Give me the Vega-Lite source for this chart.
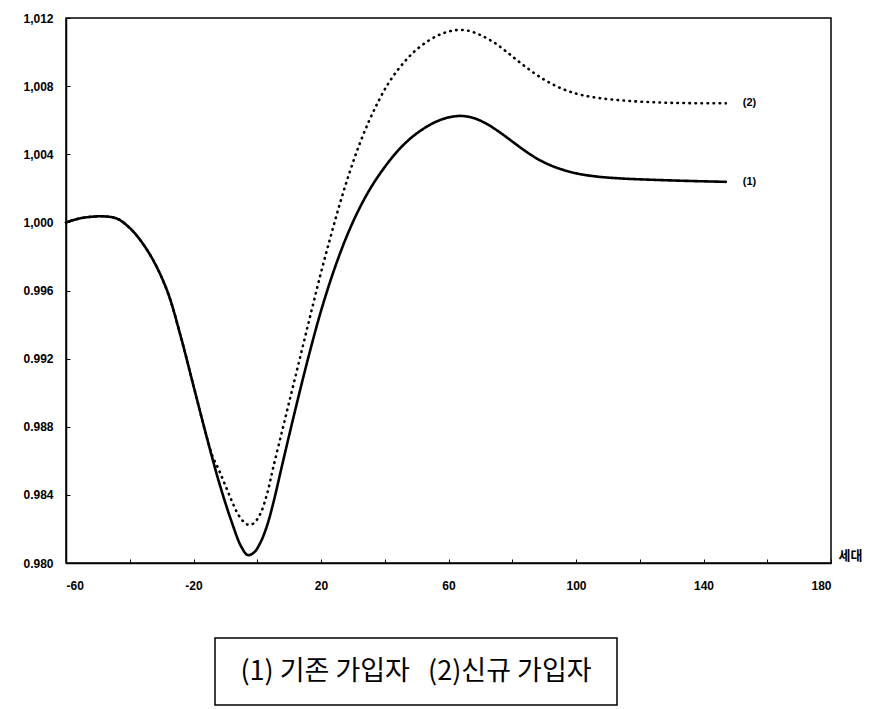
{
  "$schema": "https://vega.github.io/schema/vega-lite/v6.json",
  "padding": {"left": 22, "top": 11, "right": 0, "bottom": 0},
  "background": "white",
  "config": {
    "font": "Liberation Sans",
    "view": {"stroke": "black", "strokeWidth": 1.5},
    "axis": {"grid": false, "domainColor": "black", "domainWidth": 1.5, "tickColor": "black", "labelColor": "black", "labelFontSize": 12, "labelFontWeight": "bold", "labelFont": "Liberation Sans"}
  },
  "spacing": 45,
  "vconcat": [
    {
      "width": 765,
      "height": 545,
      "data": {"values": [
        {"series": "(1)", "x": -60, "v": 1.00000},
        {"series": "(1)", "x": -56, "v": 1.00022},
        {"series": "(1)", "x": -52, "v": 1.00033},
        {"series": "(1)", "x": -48, "v": 1.00035},
        {"series": "(1)", "x": -44, "v": 1.00022},
        {"series": "(1)", "x": -40, "v": 0.99967},
        {"series": "(1)", "x": -36, "v": 0.99878},
        {"series": "(1)", "x": -32, "v": 0.99755},
        {"series": "(1)", "x": -28, "v": 0.99585},
        {"series": "(1)", "x": -24, "v": 0.99330},
        {"series": "(1)", "x": -20, "v": 0.99040},
        {"series": "(1)", "x": -16, "v": 0.98750},
        {"series": "(1)", "x": -12, "v": 0.98475},
        {"series": "(1)", "x": -8, "v": 0.98240},
        {"series": "(1)", "x": -5, "v": 0.98095},
        {"series": "(1)", "x": -3, "v": 0.98047},
        {"series": "(1)", "x": -1, "v": 0.98062},
        {"series": "(1)", "x": 1, "v": 0.98120},
        {"series": "(1)", "x": 3, "v": 0.98215},
        {"series": "(1)", "x": 5, "v": 0.98350},
        {"series": "(1)", "x": 8, "v": 0.98590},
        {"series": "(1)", "x": 12, "v": 0.98905},
        {"series": "(1)", "x": 16, "v": 0.99205},
        {"series": "(1)", "x": 20, "v": 0.99480},
        {"series": "(1)", "x": 24, "v": 0.99715},
        {"series": "(1)", "x": 28, "v": 0.99915},
        {"series": "(1)", "x": 32, "v": 1.00080},
        {"series": "(1)", "x": 36, "v": 1.00215},
        {"series": "(1)", "x": 40, "v": 1.00325},
        {"series": "(1)", "x": 44, "v": 1.00418},
        {"series": "(1)", "x": 48, "v": 1.00492},
        {"series": "(1)", "x": 52, "v": 1.00548},
        {"series": "(1)", "x": 56, "v": 1.00590},
        {"series": "(1)", "x": 60, "v": 1.00616},
        {"series": "(1)", "x": 64, "v": 1.00625},
        {"series": "(1)", "x": 68, "v": 1.00612},
        {"series": "(1)", "x": 72, "v": 1.00578},
        {"series": "(1)", "x": 76, "v": 1.00530},
        {"series": "(1)", "x": 80, "v": 1.00475},
        {"series": "(1)", "x": 84, "v": 1.00420},
        {"series": "(1)", "x": 88, "v": 1.00372},
        {"series": "(1)", "x": 92, "v": 1.00335},
        {"series": "(1)", "x": 96, "v": 1.00308},
        {"series": "(1)", "x": 100, "v": 1.00288},
        {"series": "(1)", "x": 106, "v": 1.00270},
        {"series": "(1)", "x": 114, "v": 1.00258},
        {"series": "(1)", "x": 124, "v": 1.00250},
        {"series": "(1)", "x": 136, "v": 1.00243},
        {"series": "(1)", "x": 147, "v": 1.00238},
        {"series": "(2)", "x": -60, "v": 1.00000},
        {"series": "(2)", "x": -56, "v": 1.00022},
        {"series": "(2)", "x": -52, "v": 1.00033},
        {"series": "(2)", "x": -48, "v": 1.00035},
        {"series": "(2)", "x": -44, "v": 1.00022},
        {"series": "(2)", "x": -40, "v": 0.99967},
        {"series": "(2)", "x": -36, "v": 0.99878},
        {"series": "(2)", "x": -32, "v": 0.99755},
        {"series": "(2)", "x": -28, "v": 0.99585},
        {"series": "(2)", "x": -24, "v": 0.99330},
        {"series": "(2)", "x": -20, "v": 0.99040},
        {"series": "(2)", "x": -16, "v": 0.98750},
        {"series": "(2)", "x": -14, "v": 0.98625},
        {"series": "(2)", "x": -12, "v": 0.98545},
        {"series": "(2)", "x": -10, "v": 0.98455},
        {"series": "(2)", "x": -8, "v": 0.98365},
        {"series": "(2)", "x": -6, "v": 0.98285},
        {"series": "(2)", "x": -4, "v": 0.98238},
        {"series": "(2)", "x": -2.5, "v": 0.98223},
        {"series": "(2)", "x": -1, "v": 0.98235},
        {"series": "(2)", "x": 1, "v": 0.98290},
        {"series": "(2)", "x": 3, "v": 0.98400},
        {"series": "(2)", "x": 5, "v": 0.98560},
        {"series": "(2)", "x": 8, "v": 0.98790},
        {"series": "(2)", "x": 11, "v": 0.99020},
        {"series": "(2)", "x": 14, "v": 0.99250},
        {"series": "(2)", "x": 17, "v": 0.99480},
        {"series": "(2)", "x": 20, "v": 0.99705},
        {"series": "(2)", "x": 23, "v": 0.99915},
        {"series": "(2)", "x": 26, "v": 1.00115},
        {"series": "(2)", "x": 29, "v": 1.00295},
        {"series": "(2)", "x": 32, "v": 1.00455},
        {"series": "(2)", "x": 35, "v": 1.00592},
        {"series": "(2)", "x": 38, "v": 1.00710},
        {"series": "(2)", "x": 41, "v": 1.00812},
        {"series": "(2)", "x": 44, "v": 1.00893},
        {"series": "(2)", "x": 47, "v": 1.00960},
        {"series": "(2)", "x": 50, "v": 1.01015},
        {"series": "(2)", "x": 54, "v": 1.01070},
        {"series": "(2)", "x": 58, "v": 1.01108},
        {"series": "(2)", "x": 62, "v": 1.01128},
        {"series": "(2)", "x": 66, "v": 1.01126},
        {"series": "(2)", "x": 70, "v": 1.01100},
        {"series": "(2)", "x": 74, "v": 1.01060},
        {"series": "(2)", "x": 78, "v": 1.01005},
        {"series": "(2)", "x": 82, "v": 1.00945},
        {"series": "(2)", "x": 86, "v": 1.00888},
        {"series": "(2)", "x": 90, "v": 1.00838},
        {"series": "(2)", "x": 94, "v": 1.00798},
        {"series": "(2)", "x": 98, "v": 1.00768},
        {"series": "(2)", "x": 102, "v": 1.00747},
        {"series": "(2)", "x": 108, "v": 1.00728},
        {"series": "(2)", "x": 116, "v": 1.00714},
        {"series": "(2)", "x": 126, "v": 1.00704},
        {"series": "(2)", "x": 136, "v": 1.00700},
        {"series": "(2)", "x": 147, "v": 1.00699}
      ]},
      "layer": [
        {
          "mark": {"type": "line", "interpolate": "catmull-rom", "color": "black", "strokeWidth": 2.6, "strokeCap": "round"},
          "encoding": {
            "x": {"field": "x", "type": "quantitative",
              "scale": {"domain": [-60, 180], "nice": false},
              "axis": {
                "values": [-60, -40, -20, 0, 20, 40, 60, 80, 100, 120, 140, 160, 180],
                "labelExpr": "(datum.value + 60) % 40 === 0 ? '' + datum.value : ''",
                "tickSize": -4, "labelPadding": 21,
                "title": "세대", "titleX": 772, "titleY": -1, "titleAlign": "left", "titleBaseline": "bottom",
                "titleAngle": 0, "titleFontSize": 13, "titleFont": "Noto Sans CJK KR", "titleFontWeight": "bold", "titleColor": "black"
              }},
            "y": {"field": "v", "type": "quantitative",
              "scale": {"domain": [0.98, 1.012], "nice": false, "zero": false},
              "axis": {
                "values": [0.980, 0.984, 0.988, 0.992, 0.996, 1.000, 1.004, 1.008, 1.012],
                "labelExpr": "datum.value >= 0.9999 ? replace(format(datum.value, '.3f'), '.', ',') : format(datum.value, '.3f')",
                "tickSize": -4, "labelPadding": 17, "title": null
              }},
            "detail": {"field": "series"},
            "strokeDash": {"field": "series", "type": "nominal",
              "scale": {"domain": ["(1)", "(2)"], "range": [[1, 0], [0.5, 5.5]]}, "legend": null}
          }
        },
        {
          "transform": [
            {"joinaggregate": [{"op": "max", "field": "x", "as": "xmax"}], "groupby": ["series"]},
            {"filter": "datum.x === datum.xmax"}
          ],
          "mark": {"type": "text", "align": "left", "baseline": "middle", "dx": 17, "fontSize": 11, "fontWeight": "bold", "color": "black"},
          "encoding": {
            "x": {"field": "x", "type": "quantitative"},
            "y": {"field": "v", "type": "quantitative"},
            "text": {"field": "series"}
          }
        }
      ]
    },
    {
      "spacing": 0,
      "hconcat": [
        {
          "width": 148,
          "height": 67,
          "view": {"stroke": null},
          "data": {"values": []},
          "mark": "text",
          "encoding": {}
        },
        {
          "width": 402,
          "height": 67,
          "view": {"stroke": "black", "strokeWidth": 1.5},
          "data": {"values": [{"caption": "(1) 기존 가입자\u00a0\u00a0\u00a0(2)신규 가입자"}]},
          "mark": {"type": "text", "font": "Noto Sans CJK KR", "fontSize": 27, "color": "black"},
          "encoding": {"text": {"field": "caption"}}
        }
      ]
    }
  ]
}
